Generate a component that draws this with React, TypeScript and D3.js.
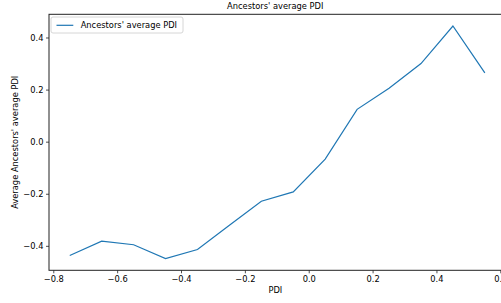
import React from "react";
import * as d3 from "d3";

const pdiBins = [-0.75, -0.65, -0.55, -0.45, -0.35, -0.25, -0.15, -0.05, 0.05, 0.15, 0.25, 0.35, 0.45, 0.55];
const ancestorsAvg = [-0.435, -0.38, -0.394, -0.447, -0.412, -0.319, -0.227, -0.191, -0.065, 0.126, 0.207, 0.302, 0.446, 0.266];
const xTicks = [-0.8, -0.6, -0.4, -0.2, 0.0, 0.2, 0.4, 0.6];
const yTicks = [-0.4, -0.2, 0.0, 0.2, 0.4];
const seriesName = "Ancestors' average PDI";

const W = 501, H = 303;
const left = 49, right = 505.6, top = 14.3, bottom = 270.3;
const FONT = "DejaVu Sans, sans-serif";
const FS = 8.3;

const fmt = (v: number) => {
  const s = Math.abs(v).toFixed(1);
  return v < -1e-9 ? "\u2212" + s : s;
};

export default function App() {
  const x = d3.scaleLinear().domain([-0.815, 0.615]).range([left, right]);
  const y = d3.scaleLinear().domain([-0.492, 0.491]).range([bottom, top]);
  const data = pdiBins.map((b, i) => [b, ancestorsAvg[i]] as [number, number]);
  const line = d3.line<[number, number]>().x(d => x(d[0])).y(d => y(d[1]));

  return (
    <svg width={W} height={H} style={{ position: "absolute", left: 0, top: 0, background: "#fff" }} fontFamily={FONT}>
      <rect x={0} y={0} width={W} height={H} fill="#fff" />
      <text x={(left + right) / 2 - 2} y={9} fontSize={FS} textAnchor="middle" fill="#000">{seriesName}</text>
      <path d={line(data) || ""} fill="none" stroke="#1f77b4" strokeWidth={1.2} />
      {/* spines */}
      <rect x={left} y={top} width={right - left} height={bottom - top} fill="none" stroke="#222" strokeWidth={1} />
      {xTicks.map(t => (
        <g key={"x" + t}>
          <line x1={x(t)} x2={x(t)} y1={bottom} y2={bottom + 3} stroke="#222" strokeWidth={0.8} />
          <text x={x(t)} y={bottom + 12} fontSize={FS} textAnchor="middle" fill="#000">{fmt(t)}</text>
        </g>
      ))}
      {yTicks.map(t => (
        <g key={"y" + t}>
          <line x1={left - 3} x2={left} y1={y(t)} y2={y(t)} stroke="#222" strokeWidth={0.8} />
          <text x={left - 5.5} y={y(t) + 3} fontSize={FS} textAnchor="end" fill="#000">{fmt(t)}</text>
        </g>
      ))}
      <text x={(left + right) / 2 - 2} y={293} fontSize={FS} textAnchor="middle" fill="#000">PDI</text>
      <text transform={`translate(18,${(top + bottom) / 2}) rotate(-90)`} fontSize={FS} textAnchor="middle" fill="#000">
        Average Ancestors' average PDI
      </text>
      {/* legend */}
      <rect x={51} y={17} width={132} height={16} rx={2} fill="#fff" fillOpacity={0.8} stroke="#ccc" strokeWidth={0.8} />
      <line x1={56.5} x2={73.3} y1={25.3} y2={25.3} stroke="#1f77b4" strokeWidth={1.2} />
      <text x={80.7} y={28.3} fontSize={FS} fill="#000">{seriesName}</text>
    </svg>
  );
}
